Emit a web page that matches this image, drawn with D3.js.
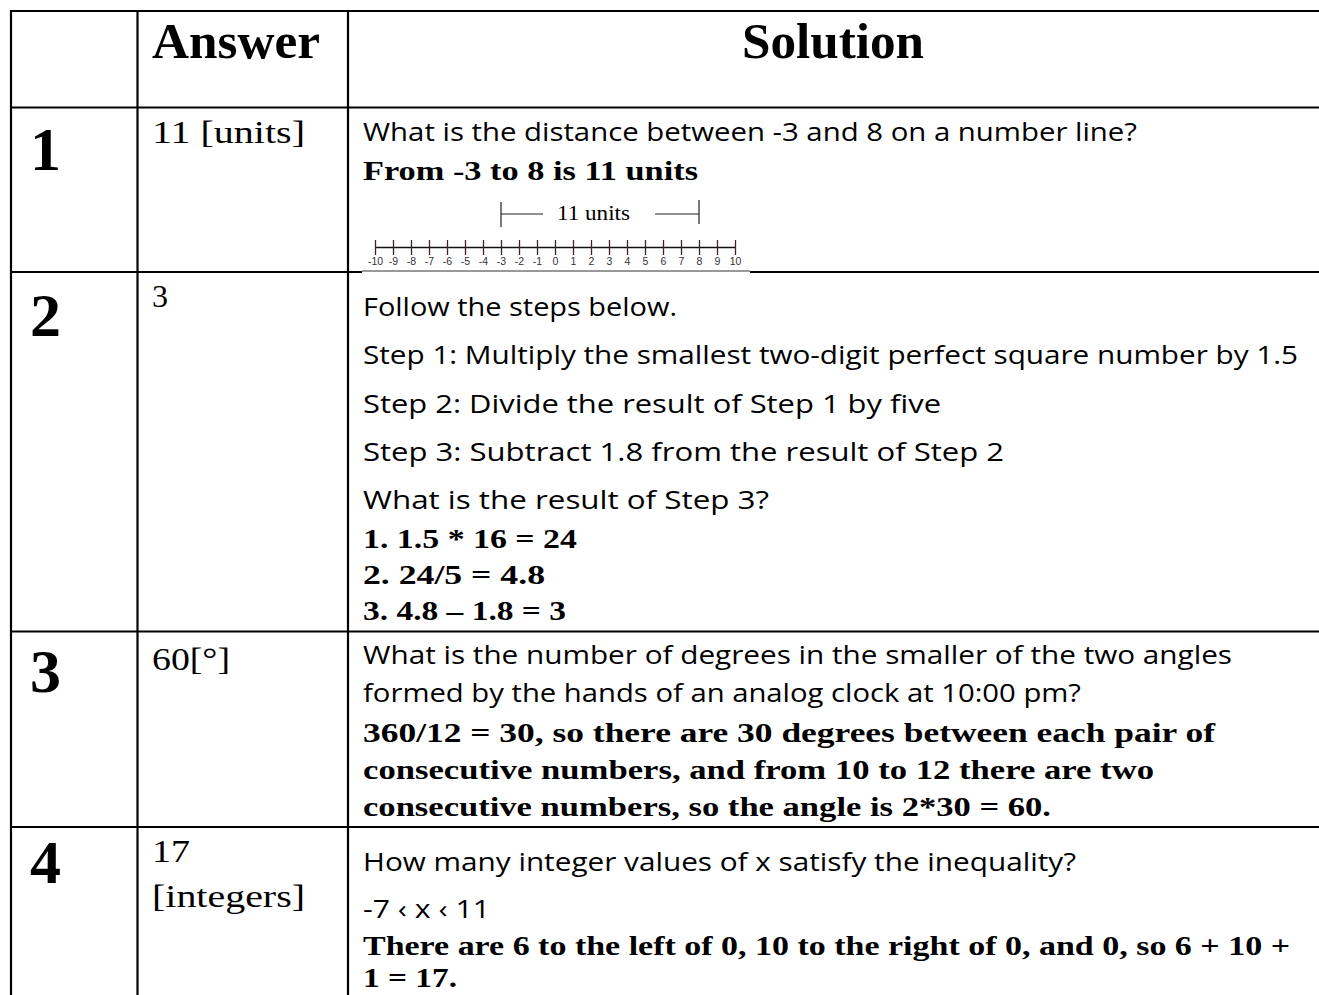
<!DOCTYPE html>
<html>
<head>
<meta charset="utf-8">
<script src="https://cdn.jsdelivr.net/npm/d3@7"></script>
<style>
  body { margin: 0; background: #fff; }
  svg { display: block; }
</style>
</head>
<body>
<div id="sheet"></div>
<script>
// step 1. DATA
/* table content */
const headers = ["Answer", "Solution"];
const rowNumbers = ["1", "2", "3", "4"];
const answers = [["11 [units]"], ["3"], ["60[°]"], ["17", "[integers]"]];

// q = question text, b = bold working
const solution1 = [
  ["What is the distance between -3 and 8 on a number line?", "q"],
  ["From -3 to 8 is 11 units", "b"]
];
const solution2 = [
  ["Follow the steps below.", "q"],
  ["Step 1: Multiply the smallest two-digit perfect square number by 1.5", "q"],
  ["Step 2: Divide the result of Step 1 by five", "q"],
  ["Step 3: Subtract 1.8 from the result of Step 2", "q"],
  ["What is the result of Step 3?", "q"],
  ["1. 1.5 * 16 = 24", "b"],
  ["2. 24/5 = 4.8", "b"],
  ["3. 4.8 \u2013 1.8 = 3", "b"]
];
const solution3 = [
  ["What is the number of degrees in the smaller of the two angles", "q"],
  ["formed by the hands of an analog clock at 10:00 pm?", "q"],
  ["360/12 = 30, so there are 30 degrees between each pair of", "b"],
  ["consecutive numbers, and from 10 to 12 there are two", "b"],
  ["consecutive numbers, so the angle is 2*30 = 60.", "b"]
];
const solution4 = [
  ["How many integer values of x satisfy the inequality?", "q"],
  ["-7 \u2039 x \u2039 11", "q"],
  ["There are 6 to the left of 0, 10 to the right of 0, and 0, so 6 + 10 +", "b"],
  ["1 = 17.", "b"]
];
const solutions = [solution1, solution2, solution3, solution4];

// number line in row 1
const lineTicks = [-10, -9, -8, -7, -6, -5, -4, -3, -2, -1, 0, 1, 2, 3, 4, 5, 6, 7, 8, 9, 10];
const distanceSpan = [-3, 8];
const distanceLabel = "11 units";

// step 2. LAYOUT
const width = 1319, height = 995;
const colX = [11, 137.5, 348];                 // vertical rules
const rowY = [11, 107.5, 272, 631.5, 827];     // horizontal rules (last row runs off the page)
const solX = 363;
const ansX = 152;
const numBase = [170, 336, 692, 883];
// baseline y and fitted width for each solution line
const solFit = [
  [[141, 774], [180, 335]],
  [[316, 314], [364, 935], [413, 578], [461, 641], [509, 406], [548, 214], [584, 182], [620, 203]],
  [[664, 869], [702, 718], [742, 852], [779, 791], [816, 688]],
  [[871, 713], [918, 127], [955, 927], [987, 94]]
];
const ansFit = [[[143, 153]], [[307, 0]], [[670, 78]], [[862, 38], [907, 153]]];

const serif = "'Liberation Serif', 'Times New Roman', serif";
const casual = "'Open Sans', 'Noto Sans', sans-serif";

const svg = d3.select("#sheet").append("svg")
  .attr("width", width)
  .attr("height", height);

// step 3. GRID
const grid = svg.append("g").attr("stroke", "#000").attr("stroke-width", 2.2);
colX.forEach(x => grid.append("line").attr("x1", x).attr("x2", x).attr("y1", rowY[0] - 1).attr("y2", height));
rowY.forEach((y, i) => {
  if (i === 2) {
    // number line picture covers part of this rule
    grid.append("line").attr("x1", colX[0]).attr("x2", 362).attr("y1", y).attr("y2", y);
    grid.append("line").attr("x1", 750).attr("x2", width).attr("y1", y).attr("y2", y);
    grid.append("line").attr("x1", 362).attr("x2", 750).attr("y1", y - 1).attr("y2", y - 1)
      .attr("stroke", "#333").attr("stroke-width", 1);
  } else {
    grid.append("line").attr("x1", colX[0] - 1).attr("x2", width).attr("y1", y).attr("y2", y);
  }
});

// helper: text fitted to width
function fitText(g, str, x, y, w, size, family, weight) {
  const t = g.append("text")
    .attr("x", x).attr("y", y)
    .attr("font-family", family)
    .attr("font-size", size)
    .attr("font-weight", weight)
    .attr("fill", "#000")
    .text(str);
  if (w > 0) t.attr("textLength", w).attr("lengthAdjust", "spacingAndGlyphs");
  return t;
}

// step 4. TEXT
const txt = svg.append("g");
fitText(txt, headers[0], 152, 58, 168, 50, serif, "bold");
fitText(txt, headers[1], 742, 58, 182, 50, serif, "bold");

rowNumbers.forEach((n, i) => fitText(txt, n, 30, numBase[i], 0, 62, serif, "bold"));

answers.forEach((lines, i) => {
  lines.forEach((s, j) => fitText(txt, s, ansX, ansFit[i][j][0], ansFit[i][j][1], 32, serif, "normal"));
});

solutions.forEach((lines, i) => {
  lines.forEach(([s, kind], j) => {
    const [y, w] = solFit[i][j];
    if (kind === "q") fitText(txt, s, solX, y, w, 25, casual, "normal");
    else fitText(txt, s, solX, y, w, 28, serif, "bold");
  });
});

// step 5. NUMBER LINE
const x = d3.scaleLinear().domain([-10, 10]).range([375, 735]);
const axis = svg.append("g")
  .attr("transform", "translate(0,247)")
  .call(d3.axisBottom(x).tickValues(lineTicks).tickSize(8).tickSizeOuter(0).tickPadding(3).tickFormat(d => String(d)));
axis.select(".domain").attr("stroke", "#111").attr("stroke-width", 1.4);
axis.selectAll(".tick line").attr("y1", -7).attr("stroke", "#3b2424").attr("stroke-width", 1.3);
axis.selectAll(".tick text")
  .attr("font-family", "'Liberation Sans', Arial, sans-serif")
  .attr("font-size", 10.5)
  .attr("fill", "#333");

// bracket for the distance
const br = svg.append("g").attr("stroke", "#222").attr("stroke-width", 1.2);
const bx0 = x(distanceSpan[0]), bx1 = x(distanceSpan[1]);
br.append("line").attr("x1", bx0).attr("x2", bx0).attr("y1", 202).attr("y2", 227);
br.append("line").attr("x1", bx1).attr("x2", bx1).attr("y1", 200).attr("y2", 224);
const lbl = svg.append("text")
  .attr("x", bx0 + 56).attr("y", 220)
  .attr("font-family", serif)
  .attr("font-size", 21)
  .attr("textLength", 73).attr("lengthAdjust", "spacingAndGlyphs")
  .text(distanceLabel);
const lb = lbl.node().getBBox();
br.append("line").attr("x1", bx0).attr("x2", lb.x - 14).attr("y1", 214).attr("y2", 214);
br.append("line").attr("x1", lb.x + lb.width + 25).attr("x2", bx1).attr("y1", 214).attr("y2", 214);
</script>
</body>
</html>
